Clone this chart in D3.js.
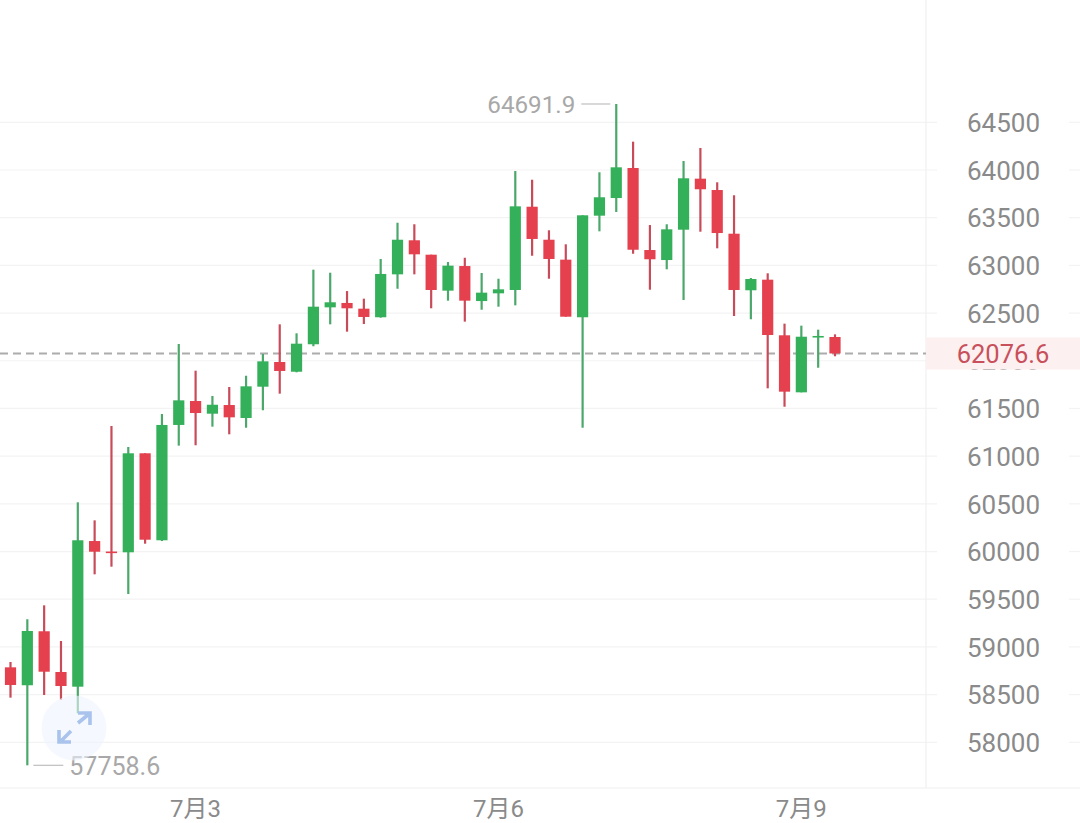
<!DOCTYPE html>
<html>
<head>
<meta charset="utf-8">
<style>
  html, body { margin: 0; padding: 0; background: #fff; }
  svg { display: block; }
  text { font-family: Roboto, "Noto Sans CJK SC", sans-serif; }
</style>
<script src="https://cdn.jsdelivr.net/npm/d3@7/dist/d3.min.js"></script>
</head>
<body>
<svg id="chart" width="1080" height="823"></svg>
<script>
// BTC 8-hour candles, oldest first
const openPrices = [58786,58598,59164,58737,58583,60110,60000,59992,61030,60118,
  61327,61578,61445,61536,61400,61728,61987,61885,62173,62560,
  62606,62546,62456,62906,63263,63112,62735,62993,62626,62707,
  62742,63615,63269,63060,62456,63521,63706,64021,63161,63056,
  63374,63909,63790,63332,62739,62850,62267,61669,62246,62249];
const highPrices = [58842,59290,59436,59062,60516,60327,61316,61096,61030,61442,
  62176,61896,61631,61725,61843,62071,62382,62288,62955,62923,
  62731,62651,63067,63447,63431,63112,63035,63080,62920,62860,
  63989,63898,63368,63221,63525,63976,64691.9,64297,63423,63431,
  64094,64231,63871,63735,62868,62917,62389,62368,62326,62277];
const lowPrices = [58468,57758.6,58496,58447,58304,59761,59841,59555,60082,60110,
  61110,61114,61309,61229,61298,61481,61655,61879,62152,62382,
  62305,62385,62452,62755,62906,62550,62630,62410,62535,62567,
  62581,63101,62860,62462,61298,63357,63560,63122,62745,62959,
  62637,63353,63179,62469,62435,61711,61518,61669,61927,62047];
const closePrices = [58601,59167,58740,58590,60118,59998,59985,61030,60124,61327,
  61585,61452,61539,61407,61732,61994,61893,62179,62567,62613,
  62550,62459,62910,63269,63116,62742,62997,62630,62714,62749,
  63619,63277,63067,62462,63525,63714,64028,63164,63064,63378,
  63913,63798,63339,62742,62857,62270,61676,62252,62260,62076.6];

const priceTicks = [58000,58500,59000,59500,60000,60500,61000,61500,62000,62500,63000,63500,64000,64500];
const dateLabels = [[11, "7月3"], [29, "7月6"], [47, "7月9"]];
const lastPrice = 62076.6;
const peak = { index: 36, value: 64691.9 };
const trough = { index: 1, value: 57758.6 };

const UP = "#35b05a", DOWN = "#e4404e", UP_WICK = "#4ba76a", DOWN_WICK = "#c84b5a";
const TICK = "#8a8a8a", FAINT = "#a8a8a8", RULE = "#f3f3f3";

const svg = d3.select("#chart");
const plotRight = 926, plotBottom = 788;

const y = d3.scaleLinear().domain([58000, 64500]).range([742.3, 122.3]);
const x = d3.scaleLinear().domain([0, 49]).range([10.5, 835]);

// Horizontal rules: across the plot, then a short stub at the far edge
const grid = svg.append("g").attr("stroke", RULE).attr("stroke-width", 1.2);
priceTicks.forEach(t => {
  grid.append("line").attr("x1", 0).attr("x2", 937).attr("y1", y(t)).attr("y2", y(t));
  grid.append("line").attr("x1", 1069).attr("x2", 1080).attr("y1", y(t)).attr("y2", y(t));
});

// Frame of the plot area
svg.append("line").attr("x1", plotRight).attr("x2", plotRight).attr("y1", 0).attr("y2", plotBottom)
  .attr("stroke", "#f0f0f0").attr("stroke-width", 1.2);
svg.append("line").attr("x1", 0).attr("x2", 1080).attr("y1", plotBottom).attr("y2", plotBottom)
  .attr("stroke", "#f0f0f0").attr("stroke-width", 1.2);

// Price axis labels
svg.append("g").selectAll("text").data(priceTicks).join("text")
  .attr("x", 1003.5).attr("y", d => y(d) + 9.7).attr("text-anchor", "middle")
  .attr("font-size", 26).attr("fill", TICK).text(d => d);

// Date labels
svg.append("g").selectAll("text").data(dateLabels).join("text")
  .attr("x", d => x(d[0])).attr("y", 817).attr("text-anchor", "middle")
  .attr("font-size", 24).attr("fill", TICK).text(d => d[1]);

// Latest price line
svg.append("line").attr("x1", 0).attr("x2", plotRight).attr("y1", y(lastPrice)).attr("y2", y(lastPrice))
  .attr("stroke", "#acacac").attr("stroke-width", 2).attr("stroke-dasharray", "8 5");

// Candles
const candles = openPrices.map((o, i) => ({ i, o, c: closePrices[i], h: highPrices[i], l: lowPrices[i] }));
const candle = svg.append("g").selectAll("g").data(candles).join("g");
candle.append("line").attr("x1", d => x(d.i)).attr("x2", d => x(d.i))
  .attr("y1", d => y(d.h)).attr("y2", d => y(d.l)).attr("stroke-width", 2.2)
  .attr("stroke", d => d.c >= d.o ? UP_WICK : DOWN_WICK);
candle.append("rect")
  .attr("fill", d => d.c >= d.o ? UP : DOWN)
  .attr("x", d => x(d.i) - 5.6).attr("width", 11.2)
  .attr("y", d => Math.min(y(d.o), y(d.c)))
  .attr("height", d => Math.max(1.6, Math.abs(y(d.o) - y(d.c))));

// Highest and lowest price annotations
svg.append("line").attr("x1", x(peak.index) - 35).attr("x2", x(peak.index) - 6)
  .attr("y1", y(peak.value)).attr("y2", y(peak.value)).attr("stroke", "#c4c4c4").attr("stroke-width", 1.3);
svg.append("text").attr("x", x(peak.index) - 41).attr("y", y(peak.value) + 9.5).attr("text-anchor", "end")
  .attr("font-size", 24.2).attr("fill", FAINT).text(peak.value);
svg.append("line").attr("x1", x(trough.index) + 6).attr("x2", x(trough.index) + 36)
  .attr("y1", y(trough.value)).attr("y2", y(trough.value)).attr("stroke", "#c4c4c4").attr("stroke-width", 1.3);
svg.append("text").attr("x", x(trough.index) + 42).attr("y", y(trough.value) + 9.5)
  .attr("font-size", 25).attr("fill", FAINT).text(trough.value);

// Latest price tag sits over the axis labels
svg.append("rect").attr("x", plotRight).attr("width", 154).attr("y", 337.5).attr("height", 32).attr("fill", "#fdf0f0");
svg.append("text").attr("x", 1003).attr("y", y(lastPrice) + 10).attr("text-anchor", "middle")
  .attr("font-size", 25.5).attr("fill", "#c8505c").text(lastPrice);

// Expand control
const btn = svg.append("g").attr("transform", "translate(74,728)");
btn.append("circle").attr("r", 32.5).attr("fill", "#eef4fd").attr("opacity", 0.6);
const arrow = btn.append("g").attr("fill", "none").attr("stroke", "#a9c3ec").attr("stroke-width", 3.6);
arrow.append("path").attr("d", "M-13 13 L-3 3 M-15 2 V14 H-3");
arrow.append("path").attr("d", "M4 -5 L15 -14 M4 -15 H16 V-3");
</script>
</body>
</html>
